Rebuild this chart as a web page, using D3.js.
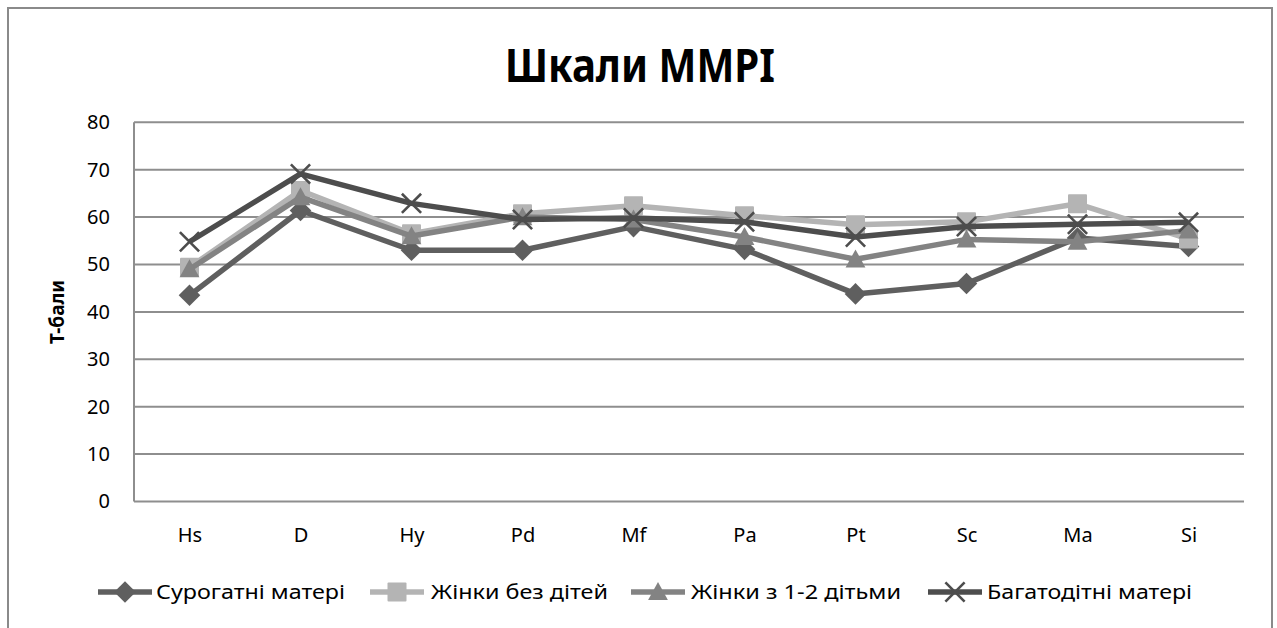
<!DOCTYPE html>
<html>
<head>
<meta charset="utf-8">
<script src="https://cdn.jsdelivr.net/npm/d3@7"></script>
<style>
  html, body { margin: 0; padding: 0; background: #fff; }
  svg { display: block; }
  text { font-family: "Noto Sans", "Open Sans", sans-serif; fill: #000; }
</style>
</head>
<body>
<svg id="chart" width="1277" height="628"></svg>
<script>
const categories = ["Hs", "D", "Hy", "Pd", "Mf", "Pa", "Pt", "Sc", "Ma", "Si"];
const seriesNames = ["Сурогатні матері", "Жінки без дітей", "Жінки з 1-2 дітьми", "Багатодітні матері"];
const surrogate   = [43.5, 61.4, 53.0, 53.0, 58.0, 53.2, 43.8, 46.0, 55.6, 53.8];
const childless   = [49.4, 65.6, 56.5, 60.7, 62.4, 60.3, 58.4, 59.0, 62.8, 55.4];
const oneTwo      = [49.0, 64.2, 56.0, 60.0, 59.5, 55.8, 51.1, 55.3, 54.8, 57.2];
const manyKids    = [54.8, 69.1, 62.9, 59.5, 59.8, 59.0, 55.8, 58.0, 58.5, 58.9];
const yTicks = [0, 10, 20, 30, 40, 50, 60, 70, 80];
const titleText = "Шкали MMPI";
const yAxisTitle = "Т-бали";

(function () {
const series = [
  { name: seriesNames[0], values: surrogate, color: "#5f5f5f", marker: "diamond" },
  { name: seriesNames[1], values: childless, color: "#b4b4b4", marker: "square" },
  { name: seriesNames[2], values: oneTwo,    color: "#838383", marker: "triangle" },
  { name: seriesNames[3], values: manyKids,  color: "#4d4d4d", marker: "x" }
];

const svg = d3.select("#chart");

svg.append("rect")
  .attr("x", 8).attr("y", 8).attr("width", 1264).attr("height", 640)
  .attr("fill", "none").attr("stroke", "#8a8a8a").attr("stroke-width", 2);

const pLeft = 134, pRight = 1244, pTop = 122.3, pBottom = 501.5;
const x = d3.scalePoint().domain(categories).range([pLeft, pRight]).padding(0.5);
const y = d3.scaleLinear().domain([0, 80]).range([pBottom, pTop]);

svg.append("g").selectAll("line").data(yTicks).join("line")
  .attr("x1", pLeft).attr("x2", pRight)
  .attr("y1", d => y(d)).attr("y2", d => y(d))
  .attr("stroke", "#8e8e8e").attr("stroke-width", 2);

svg.append("line")
  .attr("x1", pLeft).attr("x2", pLeft).attr("y1", pTop).attr("y2", pBottom)
  .attr("stroke", "#8e8e8e").attr("stroke-width", 2);

const yAxis = svg.append("g").attr("transform", `translate(${pLeft},0)`)
  .call(d3.axisLeft(y).tickValues(yTicks).tickSize(0).tickPadding(24));
yAxis.select(".domain").remove();
yAxis.selectAll("text").style("font-size", "20px").style("font-family", "'Noto Sans', sans-serif").attr("fill", "#000");

const xAxis = svg.append("g").attr("transform", `translate(0,${pBottom})`)
  .call(d3.axisBottom(x).tickSize(0).tickPadding(26));
xAxis.select(".domain").remove();
xAxis.selectAll("text").style("font-size", "20px").style("font-family", "'Noto Sans', sans-serif").attr("fill", "#000");

svg.append("text")
  .attr("transform", `translate(64,${(pTop + pBottom) / 2}) rotate(-90)`)
  .attr("text-anchor", "middle")
  .style("font-size", "19px").style("font-weight", "bold")
  .text(yAxisTitle);

svg.append("text")
  .attr("x", 640).attr("y", 82)
  .attr("text-anchor", "middle")
  .attr("textLength", 270).attr("lengthAdjust", "spacingAndGlyphs")
  .style("font-size", "46px").style("font-weight", "bold")
  .text(titleText);

function drawMarker(g, type, color, size) {
  const s = size;
  if (type === "diamond") {
    g.append("path").attr("d", `M0,${-s*0.6}L${s*0.6},0L0,${s*0.6}L${-s*0.6},0Z`).attr("fill", color);
  } else if (type === "square") {
    g.append("rect").attr("x", -s/2).attr("y", -s/2).attr("width", s).attr("height", s).attr("fill", color).attr("rx", 1);
  } else if (type === "triangle") {
    g.append("path").attr("d", `M0,${-s*0.55}L${s*0.55},${s*0.45}L${-s*0.55},${s*0.45}Z`).attr("fill", color);
  } else if (type === "x") {
    const h = s * 0.48;
    g.append("path").attr("d", `M${-h},${-h}L${h},${h}M${-h},${h}L${h},${-h}`)
      .attr("stroke", color).attr("stroke-width", 2.6).attr("fill", "none");
  }
}

const line = d3.line().x((d, i) => x(categories[i])).y(d => y(d));

series.forEach(s => {
  const g = svg.append("g");
  g.append("path").datum(s.values)
    .attr("d", line).attr("fill", "none")
    .attr("stroke", s.color).attr("stroke-width", 5.5).attr("stroke-linejoin", "round");
  s.values.forEach((v, i) => {
    const mg = g.append("g").attr("transform", `translate(${x(categories[i])},${y(v)})`);
    drawMarker(mg, s.marker, s.color, s.marker === "square" ? 19 : (s.marker === "x" ? 20 : 18));
  });
});

const legendY = 592;
const legendItems = [
  { lx: 98, tx: 156, tw: 189 },
  { lx: 370, tx: 431, tw: 177 },
  { lx: 631, tx: 691, tw: 210 },
  { lx: 928, tx: 987, tw: 205 }
];
series.forEach((s, i) => {
  const it = legendItems[i];
  const g = svg.append("g");
  g.append("line").attr("x1", it.lx).attr("x2", it.lx + 54)
    .attr("y1", legendY).attr("y2", legendY)
    .attr("stroke", s.color).attr("stroke-width", 5.5);
  const mg = g.append("g").attr("transform", `translate(${it.lx + 27},${legendY})`);
  drawMarker(mg, s.marker, s.color, s.marker === "square" ? 19 : (s.marker === "x" ? 20 : 18));
  g.append("text").attr("x", it.tx).attr("y", legendY + 7)
    .attr("textLength", it.tw).attr("lengthAdjust", "spacingAndGlyphs")
    .style("font-size", "19px")
    .text(s.name);
});
})();
</script>
</body>
</html>
